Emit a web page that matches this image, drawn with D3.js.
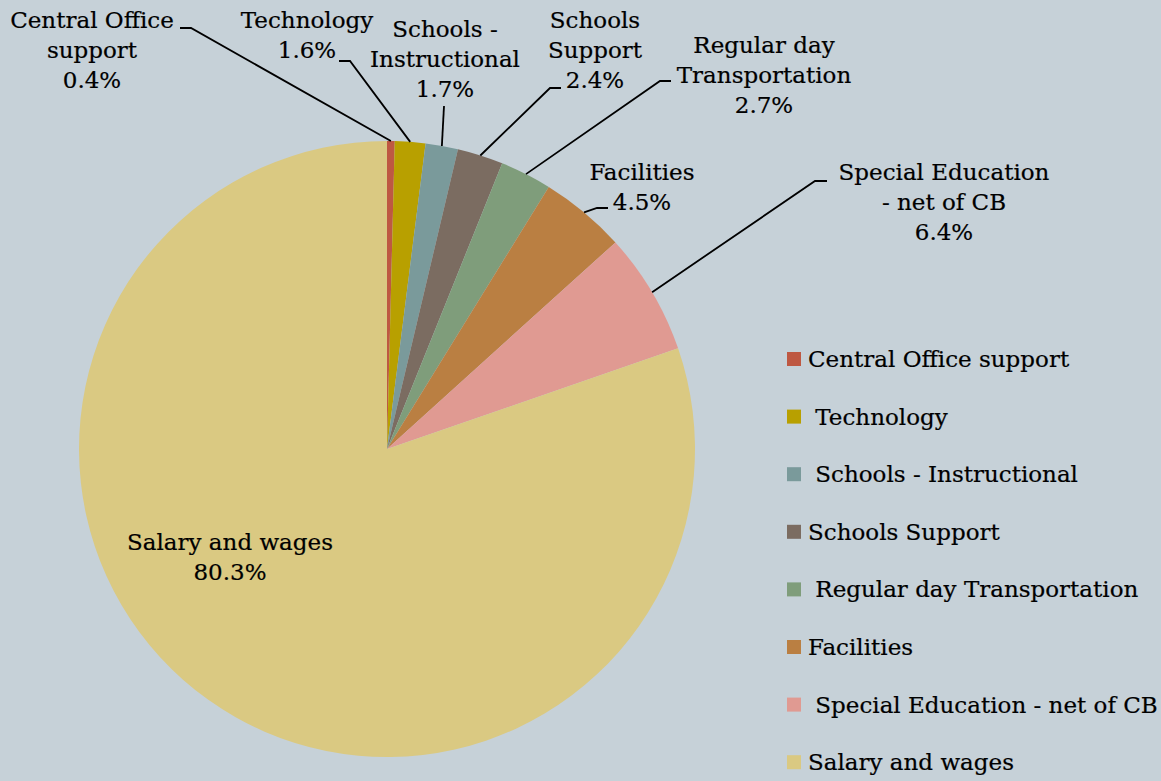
<!DOCTYPE html>
<html>
<head>
<meta charset="utf-8">
<script src="https://cdn.jsdelivr.net/npm/d3@7"></script>
<style>
  html, body { margin: 0; padding: 0; background: #C6D1D8; }
  svg { display: block; }
  text { font-family: "DejaVu Serif", Georgia, serif; font-size: 23px; fill: #000; stroke: #000; stroke-width: 0.2px; white-space: pre; }
</style>
</head>
<body>
<div id="vis"></div>
<script>
// data
var categories = ['Central Office support', 'Technology', 'Schools - Instructional', 'Schools Support',
  'Regular day Transportation', 'Facilities', 'Special Education - net of CB', 'Salary and wages'];
var values = [0.4, 1.6, 1.7, 2.4, 2.7, 4.5, 6.4, 80.3];
var colors = ['#BE5842', '#B8A000', '#7A9A9B', '#7B6C61', '#7F9D7B', '#BA7F42', '#E09A92', '#DAC982'];
// legend text as shown (some entries carry a leading space)
var legendLabels = ['Central Office support', ' Technology', ' Schools - Instructional', 'Schools Support',
  ' Regular day Transportation', 'Facilities', ' Special Education - net of CB', 'Salary and wages'];
// data label lines
var labelLines = [['Central Office', 'support'], ['Technology'], ['Schools -', 'Instructional'], ['Schools', 'Support'],
  ['Regular day', 'Transportation'], ['Facilities'], ['Special Education', '- net of CB'], ['Salary and wages']];

var W = 1161, H = 781;
var cx = 387, cy = 449, R = 308;

// label placement (centre x, first baseline) and leader line (text end, elbow)
var labelPos = [
  {x: 92, y: 28, lead: [[180, 28], [191, 28]]},
  {x: 307, y: 28, lead: [[339, 61], [350, 61]]},
  {x: 445, y: 37, lead: [[444, 106], [444, 106]]},
  {x: 595, y: 28, lead: [[561, 88], [550, 88]]},
  {x: 764, y: 53, lead: [[671, 81], [660, 81]]},
  {x: 642, y: 180, lead: [[608, 208], [597, 208]]},
  {x: 944, y: 180, lead: [[827, 181], [815, 181]]},
  {x: 230, y: 550, lead: null}
];

var svg = d3.select('#vis').append('svg')
    .attr('width', W)
    .attr('height', H);

svg.append('rect').attr('width', W).attr('height', H).attr('fill', '#C6D1D8');

var pie = d3.pie().sort(null).value(function(d) { return d; });
var arcs = pie(values);

var arc = d3.arc().innerRadius(0).outerRadius(R);
var edge = d3.arc().innerRadius(R).outerRadius(R);

var g = svg.append('g').attr('transform', 'translate(' + cx + ',' + cy + ')');

g.selectAll('path.slice')
  .data(arcs)
  .enter().append('path')
    .attr('class', 'slice')
    .attr('d', arc)
    .attr('fill', function(d, i) { return colors[i]; });

// leader lines
var line = d3.line();
svg.selectAll('path.leader')
  .data(arcs.filter(function(d, i) { return labelPos[i].lead; }))
  .enter().append('path')
    .attr('class', 'leader')
    .attr('fill', 'none')
    .attr('stroke', '#000')
    .attr('stroke-width', 1.8)
    .attr('d', function(d) {
      var p = labelPos[d.index].lead;
      var c = edge.centroid(d);
      return line([p[0], p[1], [cx + c[0], cy + c[1]]]);
    });

// data labels
arcs.forEach(function(d, i) {
  var pos = labelPos[i];
  var lines = labelLines[i].concat([d3.format('.1f')(values[i]) + '%']);
  var t = svg.append('text')
      .attr('text-anchor', 'middle')
      .attr('x', pos.x)
      .attr('y', pos.y);
  lines.forEach(function(s, k) {
    t.append('tspan').attr('x', pos.x).attr('dy', k === 0 ? 0 : 30).text(s);
  });
});

// legend
var legend = svg.append('g').attr('transform', 'translate(787,352)');
var item = legend.selectAll('g.item')
  .data(legendLabels)
  .enter().append('g')
    .attr('class', 'item')
    .attr('transform', function(d, i) { return 'translate(0,' + (i * 57.6) + ')'; });

item.append('rect')
  .attr('width', 14)
  .attr('height', 14)
  .attr('fill', function(d, i) { return colors[i]; });

item.append('text')
  .attr('x', 21)
  .attr('y', 15)
  .text(function(d) { return d; });
</script>
</body>
</html>
